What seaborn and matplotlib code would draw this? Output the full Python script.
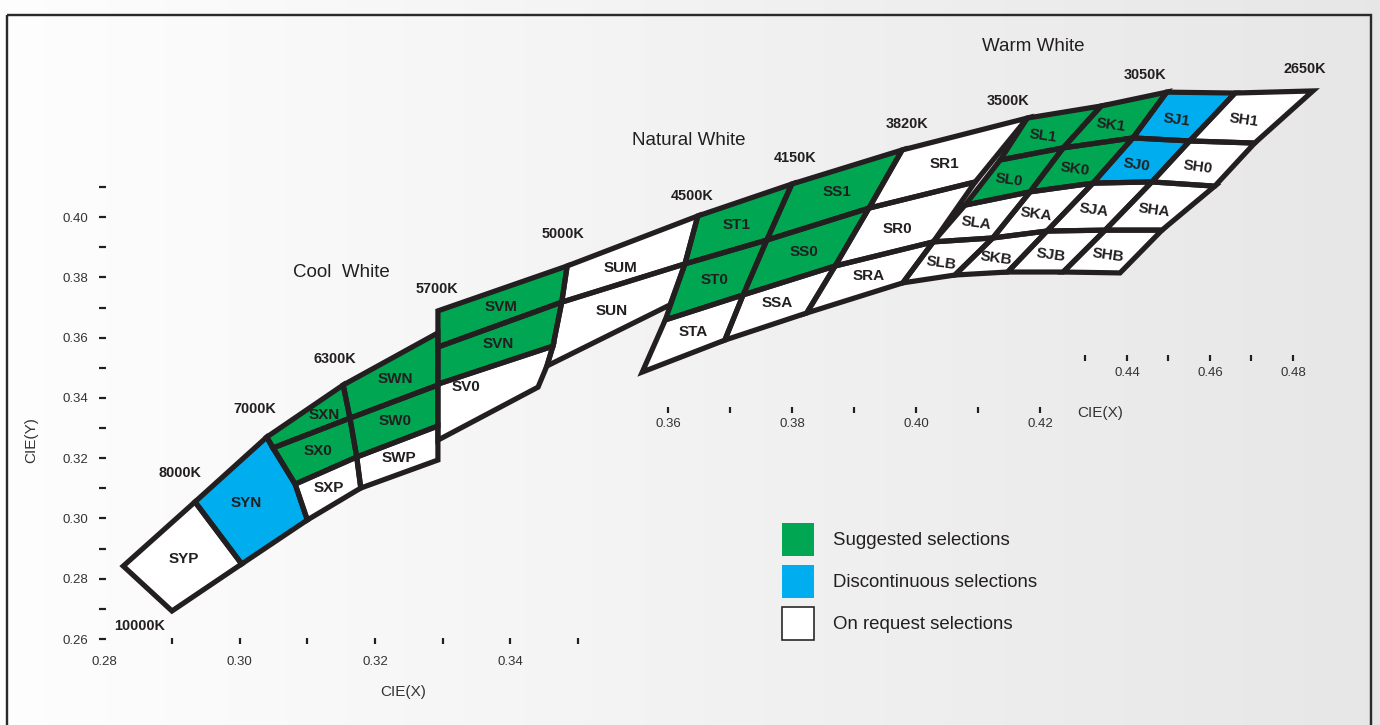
import numpy as np
import matplotlib
matplotlib.use("Agg")
import matplotlib.pyplot as plt
import seaborn as sns
from matplotlib.patches import Polygon, Patch, Rectangle
from matplotlib.ticker import FixedLocator

# ------------------------------------------------------------------ data
group_labels = ["Suggested selections", "Discontinuous selections", "On request selections"]
group_colors = ["#00A651", "#00AEEF", "#FFFFFF"]

# Cool-white grid nodes (rows top->bottom; columns 7000K, 6300K, 5700K)
cool_x = [[0.3040, 0.3153, 0.3293],
          [0.3049, 0.3163, 0.3293],
          [0.3082, 0.3173, 0.3293],
          [0.3100, 0.3179, 0.3293]]
cool_y = [[0.3270, 0.3443, 0.3616],
          [0.3234, 0.3333, 0.3443],
          [0.3114, 0.3204, 0.3307],
          [0.2995, 0.3101, 0.3194]]
cool_names = [["SXN", "SWN"], ["SX0", "SW0"], ["SXP", "SWP"]]
cool_groups = [[0, 0], [0, 0], [2, 2]]

# Natural-white grid nodes (columns 4500K, 4150K, 3820K, 3500K)
natural_x = [[0.3677, 0.3816, 0.3979, 0.4164],
             [0.3658, 0.3779, 0.3930, 0.4087],
             [0.3629, 0.3744, 0.3880, 0.4025],
             [0.3595, 0.3717, 0.3838, 0.3980]]
natural_y = [[0.4004, 0.4110, 0.4223, 0.4329],
             [0.3845, 0.3924, 0.4030, 0.4117],
             [0.3659, 0.3742, 0.3838, 0.3918],
             [0.3486, 0.3592, 0.3682, 0.3782]]
natural_names = [["ST1", "SS1", "SR1"], ["ST0", "SS0", "SR0"], ["STA", "SSA", "SRA"]]
natural_groups = [[0, 0, 2], [0, 0, 2], [2, 2, 2]]

# Warm-white grid nodes (columns 3500K, L/K, 3050K, J/H, 2650K)
warm_x = [[0.4164, 0.4273, 0.4370, 0.4471, 0.4586],
          [0.4124, 0.4217, 0.4320, 0.4404, 0.4500],
          [0.4072, 0.4168, 0.4261, 0.4348, 0.4441],
          [0.4025, 0.4113, 0.4193, 0.4279, 0.4363],
          [0.3980, 0.4057, 0.4135, 0.4217, 0.4301]]
warm_y = [[0.4329, 0.4369, 0.4415, 0.4412, 0.4419],
          [0.4190, 0.4230, 0.4263, 0.4253, 0.4246],
          [0.4040, 0.4084, 0.4113, 0.4117, 0.4103],
          [0.3918, 0.3931, 0.3954, 0.3957, 0.3957],
          [0.3782, 0.3808, 0.3818, 0.3818, 0.3815]]
warm_names = [["SL1", "SK1", "SJ1", "SH1"],
              ["SL0", "SK0", "SJ0", "SH0"],
              ["SLA", "SKA", "SJA", "SHA"],
              ["SLB", "SKB", "SJB", "SHB"]]
warm_groups = [[0, 0, 1, 2], [0, 0, 1, 2], [2, 2, 2, 2], [2, 2, 2, 2]]

# Irregular bins
free_names = ["SYP", "SYN", "SVM", "SVN", "SV0", "SUM", "SUN"]
free_x = [[0.2828, 0.2934, 0.3003, 0.2900],
          [0.2934, 0.3040, 0.3082, 0.3100, 0.3003],
          [0.3293, 0.3484, 0.3476, 0.3293],
          [0.3293, 0.3476, 0.3463, 0.3293],
          [0.3293, 0.3463, 0.3454, 0.3441, 0.3293],
          [0.3484, 0.3677, 0.3658, 0.3476],
          [0.3476, 0.3658, 0.3636, 0.3454, 0.3463]]
free_y = [[0.2842, 0.3055, 0.2849, 0.2693],
          [0.3055, 0.3270, 0.3114, 0.2995, 0.2849],
          [0.3689, 0.3838, 0.3718, 0.3569],
          [0.3569, 0.3718, 0.3572, 0.3446],
          [0.3446, 0.3572, 0.3506, 0.3436, 0.3260],
          [0.3838, 0.4004, 0.3845, 0.3718],
          [0.3718, 0.3845, 0.3709, 0.3506, 0.3572]]
free_groups = [2, 1, 0, 0, 2, 2, 2]

# CCT boundary labels, anchored at the end of each boundary line
cct_names = ["10000K", "8000K", "7000K", "6300K", "5700K", "5000K",
             "4500K", "4150K", "3820K", "3500K", "3050K", "2650K"]
cct_x = [0.2900, 0.2934, 0.3040, 0.3153, 0.3293, 0.3484,
         0.3677, 0.3816, 0.3979, 0.4164, 0.4370, 0.4586]
cct_y = [0.2693, 0.3055, 0.3270, 0.3443, 0.3689, 0.3838,
         0.4004, 0.4110, 0.4223, 0.4329, 0.4415, 0.4419]

section_names = ["Cool  White", "Natural White", "Warm White"]
section_x = [0.3150, 0.3663, 0.4173]
section_y = [0.3815, 0.4253, 0.4568]

main_x_marks = [0.29, 0.30, 0.31, 0.32, 0.33, 0.34, 0.35]
main_x_labels = [0.28, 0.30, 0.32, 0.34]
mid_x_marks = [0.36, 0.37, 0.38, 0.39, 0.40, 0.41, 0.42]
mid_x_labels = [0.36, 0.38, 0.40, 0.42]
right_x_marks = [0.43, 0.44, 0.45, 0.46, 0.47, 0.48]
right_x_labels = [0.44, 0.46, 0.48]
y_marks = [0.26, 0.27, 0.28, 0.29, 0.30, 0.31, 0.32, 0.33,
           0.34, 0.35, 0.36, 0.37, 0.38, 0.39, 0.40, 0.41]
y_labels = [0.26, 0.28, 0.30, 0.32, 0.34, 0.36, 0.38, 0.40]

# ------------------------------------------------------------------ layout
W, H, DPI = 1380, 725, 100
PX_PER_X, PX_PER_Y = 6767.0, 3013.0
X0_PX, Y0_PX = 104.3, 639.0      # pixel of x=0.28, y=0.26
XLIM = (0.28 - X0_PX / PX_PER_X, 0.28 + (W - X0_PX) / PX_PER_X)
YLIM = (0.26 - (H - Y0_PX) / PX_PER_Y, 0.26 + Y0_PX / PX_PER_Y)
PT = 72.0 / DPI
INK = "#231F20"
TXT = "#333333"
# small label nudges in pixels (dx right, dy up)
label_nudge_px = {"SXN": (10, 4), "SV0": (-22, 3), "SUM": (-10, -7), "SYN": (-8, 0),
                  "SR0": (-6, -5), "SS1": (4, 3)}
warm_nudge_px = (-5, -4)

sns.set_theme(style="white")
plt.rcParams['font.family'] = ['Liberation Sans', 'DejaVu Sans']

fig = plt.figure(figsize=(W / DPI, H / DPI), dpi=DPI)

# background gradient + frame
bg = fig.add_axes([0, 0, 1, 1], zorder=-5)
grad = np.linspace(0.995, 0.905, 256)[None, :]
bg.imshow(np.dstack([grad, grad, grad + 0.002]).clip(0, 1), aspect="auto",
          extent=[0, W, H, 0], interpolation="bicubic")
bg.add_patch(Rectangle((7, 15), W - 16, H, fill=False, lw=2.4 * PT,
                       edgecolor="#2A2A2A"))
bg.set_xlim(0, W)
bg.set_ylim(H, 0)
bg.axis("off")

ax = fig.add_axes([0, 0, 1, 1])
ax.set_facecolor("none")
ax.set_xlim(*XLIM)
ax.set_ylim(*YLIM)
ax.set_xticks([])
ax.set_yticks([])
for s in ax.spines.values():
    s.set_visible(False)


def centroid(xs, ys):
    x = np.asarray(xs) * PX_PER_X
    y = np.asarray(ys) * PX_PER_Y
    x1, y1 = np.roll(x, -1), np.roll(y, -1)
    cr = x * y1 - x1 * y
    a = cr.sum() / 2
    cx = ((x + x1) * cr).sum() / (6 * a)
    cy = ((y + y1) * cr).sum() / (6 * a)
    return cx / PX_PER_X, cy / PX_PER_Y


cells = []  # (name, xs, ys, group, rotation, nudge)
for gx, gy, names, groups, rot in [(cool_x, cool_y, cool_names, cool_groups, 0),
                                   (natural_x, natural_y, natural_names, natural_groups, 0),
                                   (warm_x, warm_y, warm_names, warm_groups, -8)]:
    for i, row in enumerate(names):
        for j, nm in enumerate(row):
            xs = [gx[i][j], gx[i][j + 1], gx[i + 1][j + 1], gx[i + 1][j]]
            ys = [gy[i][j], gy[i][j + 1], gy[i + 1][j + 1], gy[i + 1][j]]
            nudge = warm_nudge_px if rot else label_nudge_px.get(nm, (0, 0))
            cells.append((nm, xs, ys, groups[i][j], rot, nudge))
for nm, xs, ys, g in zip(free_names, free_x, free_y, free_groups):
    cells.append((nm, xs, ys, g, 0, label_nudge_px.get(nm, (0, 0))))

LW = 5.2 * PT
for nm, xs, ys, g, rot, nd in cells:
    ax.add_patch(Polygon(np.column_stack([xs, ys]), closed=True,
                         facecolor=group_colors[g], edgecolor="none", zorder=2))
for nm, xs, ys, g, rot, nd in cells:
    ax.add_patch(Polygon(np.column_stack([xs, ys]), closed=True, facecolor="none",
                         edgecolor=INK, lw=LW, joinstyle="miter", zorder=3))
    cx, cy = centroid(xs, ys)
    ax.annotate(nm, (cx, cy), xytext=(nd[0] * PT, nd[1] * PT), textcoords="offset points",
                ha="center", va="center", fontsize=11, fontweight="bold",
                color=INK, rotation=rot, rotation_mode="anchor", zorder=4)

# CCT labels (pixel offsets from the anchor node)
cct_offsets_px = {"10000K": (-32, -15), "8000K": (-15, 29), "7000K": (-12, 28),
                  "6300K": (-8, 26), "5700K": (-1, 22), "5000K": (-4, 32),
                  "4500K": (-6, 20), "4150K": (3, 26), "3820K": (5, 26),
                  "3500K": (-19, 17), "3050K": (-22, 17), "2650K": (-8, 22)}
for nm, x, y in zip(cct_names, cct_x, cct_y):
    dx, dy = cct_offsets_px[nm]
    ax.annotate(nm, (x, y), xytext=(dx * PT, dy * PT), textcoords="offset points",
                ha="center", va="center", fontsize=10.4, fontweight="bold",
                color=INK, zorder=5)

for nm, x, y in zip(section_names, section_x, section_y):
    ax.text(x, y, nm, ha="center", va="center", fontsize=13.5, color=INK)


# ---- axes (main scale + two local scales)
def lin_funcs(main_a, loc_a, main_b, loc_b):
    s = (loc_b - loc_a) / (main_b - main_a)
    return (lambda v: loc_a + (np.asarray(v) - main_a) * s,
            lambda v: main_a + (np.asarray(v) - loc_a) / s)


def frac_y(y):
    return (y - YLIM[0]) / (YLIM[1] - YLIM[0])


def frac_x(x):
    return (x - XLIM[0]) / (XLIM[1] - XLIM[0])


def main_from_px(px):
    return 0.28 + (px - X0_PX) / PX_PER_X


def y_from_px(py):
    return 0.26 + (Y0_PX - py) / PX_PER_Y


def style_x(sec, marks, labels, pad_pt):
    sec.patch.set_visible(False)
    sec.set_alignment("bottom")
    for s in sec.spines.values():
        s.set_visible(False)
    sec.xaxis.remove_overlapping_locs = False
    sec.set_xticks(labels, labels=[f"{v:.2f}" for v in labels])
    sec.xaxis.set_minor_locator(FixedLocator(marks))
    sec.tick_params(axis="x", which="major", bottom=True, top=False,
                    labelbottom=True, labeltop=False, length=0,
                    pad=pad_pt, labelsize=9.5, labelcolor=TXT)
    sec.tick_params(axis="x", which="minor", bottom=True, top=False, length=6 * PT,
                    width=2.2 * PT, direction="inout", color=INK)


sec_main = ax.secondary_xaxis(frac_y(y_from_px(641)))
style_x(sec_main, main_x_marks, main_x_labels, 11.0)

f_mid = lin_funcs(main_from_px(668), 0.36, main_from_px(1040), 0.42)
sec_mid = ax.secondary_xaxis(frac_y(y_from_px(410)), functions=f_mid)
style_x(sec_mid, mid_x_marks, mid_x_labels, 5.5)

f_right = lin_funcs(main_from_px(1127), 0.44, main_from_px(1293), 0.48)
sec_right = ax.secondary_xaxis(frac_y(y_from_px(357.5)), functions=f_right)
style_x(sec_right, right_x_marks, right_x_labels, 6.5)

sec_y = ax.secondary_yaxis(frac_x(main_from_px(102.5)))
sec_y.patch.set_visible(False)
for s in sec_y.spines.values():
    s.set_visible(False)
sec_y.yaxis.remove_overlapping_locs = False
sec_y.set_yticks(y_labels, labels=[f"{v:.2f}" for v in y_labels])
sec_y.yaxis.set_minor_locator(FixedLocator(y_marks))
sec_y.tick_params(axis="y", which="major", left=True, right=False, length=0,
                  pad=10.0, labelsize=9.5, labelcolor=TXT)
sec_y.tick_params(axis="y", which="minor", left=True, right=False, length=7 * PT,
                  width=2.2 * PT, direction="inout", color=INK)

ax.text(main_from_px(403), y_from_px(692), "CIE(X)", ha="center", va="center",
        fontsize=11, color=TXT)
ax.text(main_from_px(1100), y_from_px(413), "CIE(X)", ha="center", va="center",
        fontsize=11, color=TXT)
ax.text(main_from_px(31), y_from_px(440), "CIE(Y)", ha="center", va="center",
        fontsize=11, color=TXT, rotation=90)

# ---- legend
handles = [Patch(facecolor=group_colors[0], edgecolor=group_colors[0], lw=0),
           Patch(facecolor=group_colors[1], edgecolor=group_colors[1], lw=0),
           Patch(facecolor=group_colors[2], edgecolor=INK, lw=1.6 * PT)]
FS = 13.4
FS_PX = FS / PT
box_h = 33.0 / FS_PX
leg = ax.legend(handles, group_labels, loc="upper left",
                bbox_to_anchor=(782 / W, 1 - 523 / H), frameon=False,
                fontsize=FS, handlelength=32.0 / FS_PX,
                handleheight=(box_h - 0.245) / 0.65,
                handletextpad=19.0 / FS_PX, labelspacing=9.0 / FS_PX,
                borderpad=0, borderaxespad=0, labelcolor=INK)

fig.savefig("out.png", dpi=DPI)
